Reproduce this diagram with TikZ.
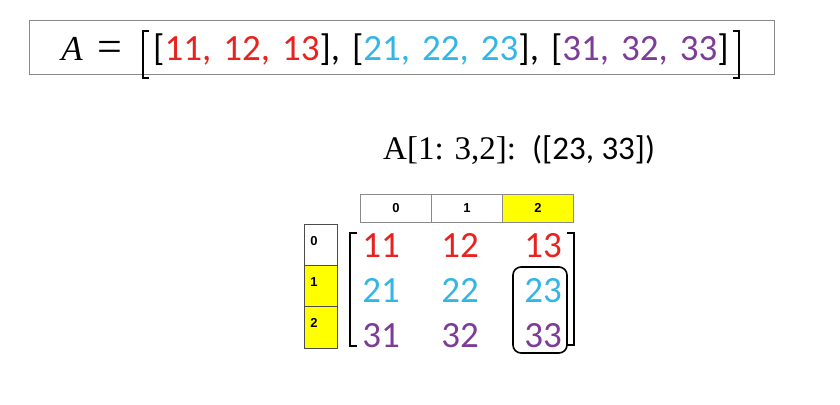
\documentclass[tikz,border=0pt]{standalone}
\usepackage{fontspec}
\setmainfont{Carlito}
\newfontfamily\serifit{Liberation Serif}
\newfontfamily\lab{Liberation Sans}
\definecolor{cred}{HTML}{E8221E}
\definecolor{ccyan}{HTML}{33B5E5}
\definecolor{cpurp}{HTML}{7D3C98}
\definecolor{cyel}{HTML}{FFFF00}
\definecolor{cgrid}{HTML}{8A8A8A}
\begin{document}
\begin{tikzpicture}[x=1pt,y=-1pt,
  cell/.style={draw=cgrid,line width=0.9pt,inner sep=0pt},
  hl/.style={fill=cyel},
  celltxt/.style={font=\lab\bfseries\fontsize{13}{14}\selectfont,inner sep=0pt},
  num/.style={font=\fontsize{37}{40}\selectfont,inner sep=0pt,anchor=base},
  brk/.style={line width=2.6pt,line cap=butt},
  bigbrk/.style={line width=2.4pt}]
\useasboundingbox (0,0) rectangle (840,404);
% top formula
\node[draw=cgrid,line width=1pt,minimum width=745pt,minimum height=54pt,anchor=north west,inner sep=0pt] (topbox) at (29,20) {};
\node[anchor=base,inner sep=0pt,font=\serifit\itshape\fontsize{35}{36}\selectfont] (Asym) at (72,60) {A};
\node[anchor=base,inner sep=0pt,font=\serifit\fontsize{44}{46}\selectfont] (eq) at (110,61) {=};
\draw[bigbrk] (149,31) -- (143,31) -- (143,78) -- (149,78);
\draw[bigbrk] (733,31) -- (739,31) -- (739,78) -- (733,78);
\node[anchor=base west,inner sep=0pt,font=\fontsize{37}{38}\selectfont] (rows) at (153,60)
 {\spaceskip=12pt [\textcolor{cred}{11, 12, 13}], [\textcolor{ccyan}{21, 22, 23}], [\textcolor{cpurp}{31, 32, 33}]};
% caption
\node[anchor=base west,inner sep=0pt,font=\serifit\fontsize{33}{36}\selectfont] (cap) at (383,159) {A[1: 3,2]:};
\node[anchor=base west,inner sep=0pt,font=\fontsize{33}{36}\selectfont] (cap2) at (532,159) {([23, 33])};
% header cells
\node[cell,minimum width=71pt,minimum height=28pt,anchor=north west] (h0) at (360,194) {};
\node[cell,minimum width=71pt,minimum height=28pt,anchor=north west] (h1) at (431,194) {};
\node[cell,hl,minimum width=71pt,minimum height=28pt,anchor=north west] (h2) at (502,194) {};
\node[celltxt] at (h0.center) {0};
\node[celltxt] at (h1.center) {1};
\node[celltxt] at (h2.center) {2};
% row cells
\node[cell,draw=black!70,minimum width=33pt,minimum height=41pt,anchor=north west] (r0) at (304,224) {};
\node[cell,draw=black!70,hl,minimum width=33pt,minimum height=41pt,anchor=north west] (r1) at (304,265) {};
\node[cell,draw=black!70,hl,minimum width=33pt,minimum height=42pt,anchor=north west] (r2) at (304,306) {};
\node[celltxt] at ([xshift=10pt,yshift=-17pt]r0.north west) {0};
\node[celltxt] at ([xshift=10pt,yshift=-17pt]r1.north west) {1};
\node[celltxt] at ([xshift=10pt,yshift=-17pt]r2.north west) {2};
% matrix brackets
\draw[brk] (357,233) -- (350,233) -- (350,346) -- (357,346);
\draw[brk] (567,233) -- (574,233) -- (574,345) -- (567,345);
% numbers
\node[num,text=cred] (m11) at (381,257) {11};
\node[num,text=cred] (m12) at (460,257) {12};
\node[num,text=cred] (m13) at (543,257) {13};
\node[num,text=ccyan] (m21) at (381,302) {21};
\node[num,text=ccyan] (m22) at (460,302) {22};
\node[num,text=ccyan] (m23) at (543,302) {23};
\node[num,text=cpurp] (m31) at (381,347) {31};
\node[num,text=cpurp] (m32) at (460,347) {32};
\node[num,text=cpurp] (m33) at (543,347) {33};
% selection box
\draw[line width=1.6pt,rounded corners=8pt] (513,267) rectangle (567,353);
\end{tikzpicture}
\end{document}
